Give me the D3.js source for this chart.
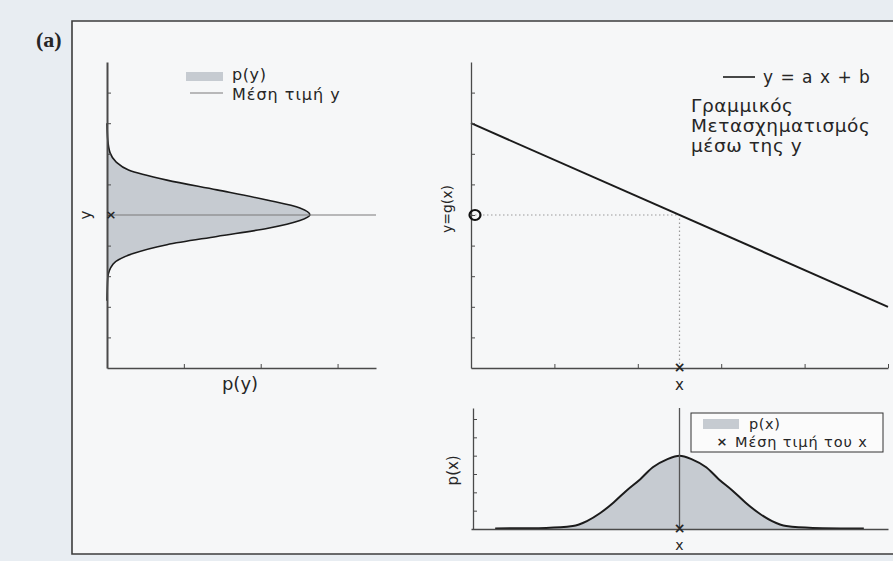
<!DOCTYPE html>
<html>
<head>
<meta charset="utf-8">
<script src="https://cdn.jsdelivr.net/npm/d3@7"></script>
<style>
  html, body { margin: 0; padding: 0; background: #e8edf2; }
  svg { display: block; }
  text { font-family: "DejaVu Sans", "Open Sans", sans-serif; fill: #262626; }
</style>
</head>
<body>
<svg id="fig" width="893" height="561"></svg>
<script>
// ---- data ----
// p(y): density of y, listed along the y axis (level, density)
const pyLevels  = [2.2, 2.95, 3.4, 3.74, 4.03, 4.3, 4.56, 4.82, 5.0, 5.23, 5.49, 5.82, 6.14, 6.47, 6.73, 7.03, 7.45, 8.0];
const pyDensity = [0, 0.01, 0.08, 0.34, 0.78, 1.43, 2.08, 2.51, 2.64, 2.51, 2.08, 1.43, 0.78, 0.28, 0.12, 0.04, 0.01, 0];
const yMean = 5;

// linear transform y = a x + b
const lineX = [0, 5];
const lineY = [8, 2];
const xMean = 2.5;

// p(x): density of x
const pxPos     = [0.29, 0.9, 1.22, 1.39, 1.55, 1.71, 1.87, 2.03, 2.18, 2.35, 2.5, 2.65, 2.82, 2.97, 3.13, 3.29, 3.45, 3.61, 3.78, 4.1, 4.71];
const pxDensity = [0.03, 0.06, 0.16, 0.43, 0.87, 1.45, 2.12, 2.72, 3.37, 3.8, 4.0, 3.8, 3.37, 2.72, 2.12, 1.45, 0.87, 0.43, 0.16, 0.06, 0.03];

// tick positions
const yTicks   = [1, 2, 3, 4, 5, 6, 7, 8, 9];
const pyTicks  = [1, 2, 3];
const xTicks   = [1, 2, 3, 4, 5];
const pxTicks  = [1, 2, 3, 4, 5, 6];

// ---- layout ----
const svg = d3.select("#fig");
const fillCol = "#c6cbd1";
const curveCol = "#1b1b1b";
const axisCol = "#4a4a4a";

// page + frame
svg.append("rect").attr("x", 72).attr("y", 21).attr("width", 821).attr("height", 533).attr("fill", "#f6f7f8");
svg.append("path")
  .attr("d", "M893,21 H72 V554 H893")
  .attr("fill", "none").attr("stroke", "#3c3c3c").attr("stroke-width", 1.6);
svg.append("text").attr("x", 36).attr("y", 47)
  .style("font-family", "'Liberation Serif', 'DejaVu Serif', serif")
  .style("font-weight", "bold").style("font-size", "22px").text("(a)");

// shared scales
const yScale = d3.scaleLinear().domain([0, 10]).range([368, 62]);
const pyScale = d3.scaleLinear().domain([0, 3.5]).range([107, 376]);
const xScale = d3.scaleLinear().domain([0, 5]).range([471, 888]);
const pxScale = d3.scaleLinear().domain([0, 6.6]).range([529, 408]);

function styleAxis(g, w) {
  g.selectAll("path.domain").attr("stroke", axisCol).attr("stroke-width", w);
  g.selectAll(".tick line").attr("stroke", axisCol).attr("stroke-width", 1);
  g.selectAll(".tick text").remove();
}

// ===== left panel: p(y) =====
const left = svg.append("g");
const pyData = pyLevels.map((v, i) => ({ y: v, p: pyDensity[i] }));
left.append("path").datum(pyData)
  .attr("d", d3.area().curve(d3.curveMonotoneY)
    .y(d => yScale(d.y)).x0(pyScale(0)).x1(d => pyScale(d.p)))
  .attr("fill", fillCol);
left.append("path").datum(pyData)
  .attr("d", d3.line().curve(d3.curveMonotoneY)
    .y(d => yScale(d.y)).x(d => pyScale(d.p)))
  .attr("fill", "none").attr("stroke", curveCol).attr("stroke-width", 1.6);
// mean line
left.append("line")
  .attr("x1", pyScale(0)).attr("x2", pyScale(3.5))
  .attr("y1", yScale(yMean)).attr("y2", yScale(yMean))
  .attr("stroke", "#7a7a7a").attr("stroke-width", 1.1);
left.append("g").attr("transform", `translate(${pyScale(0)},0)`)
  .call(d3.axisLeft(yScale).tickValues(yTicks).tickSizeInner(-4).tickSizeOuter(0))
  .call(g => styleAxis(g, 2));
left.append("g").attr("transform", `translate(0,${yScale(0)})`)
  .call(d3.axisBottom(pyScale).tickValues(pyTicks).tickSizeInner(-4).tickSizeOuter(0))
  .call(g => styleAxis(g, 1.6));
left.append("text").attr("x", pyScale(0) + 4).attr("y", yScale(yMean) + 4)
  .attr("text-anchor", "middle").style("font-size", "13px").style("font-weight", "bold").text("×");
left.append("text")
  .attr("transform", `translate(${pyScale(0) - 21},${yScale(yMean)}) rotate(-90)`)
  .attr("text-anchor", "middle").attr("dy", "0.35em").style("font-size", "15px").text("y");
left.append("text").attr("x", 240).attr("y", 390)
  .attr("text-anchor", "middle").style("font-size", "18px").text("p(y)");
// legend
left.append("rect").attr("x", 186).attr("y", 72).attr("width", 37).attr("height", 9).attr("fill", fillCol);
left.append("line").attr("x1", 190).attr("x2", 223).attr("y1", 93).attr("y2", 93)
  .attr("stroke", "#7a7a7a").attr("stroke-width", 1.1);
left.append("text").attr("x", 232).attr("y", 80).style("font-size", "16px")
  .style("letter-spacing", "0.6px").text("p(y)");
left.append("text").attr("x", 232).attr("y", 100).style("font-size", "16px")
  .style("letter-spacing", "1px").text("Μέση τιμή y");

// ===== top right: y = g(x) =====
const tr = svg.append("g");
tr.append("path")
  .attr("d", `M${xScale(0)},${yScale(yMean)} H${xScale(xMean)} V${yScale(0)}`)
  .attr("fill", "none").attr("stroke", "#9a9a9a").attr("stroke-width", 1.2)
  .attr("stroke-dasharray", "1.5,2.5");
tr.append("path").datum(lineX.map((v, i) => [v, lineY[i]]))
  .attr("d", d3.line().x(d => xScale(d[0])).y(d => yScale(d[1])))
  .attr("fill", "none").attr("stroke", curveCol).attr("stroke-width", 2);
tr.append("g").attr("transform", `translate(${xScale(0)},0)`)
  .call(d3.axisLeft(yScale).tickValues(yTicks).tickSizeInner(-4).tickSizeOuter(0))
  .call(g => styleAxis(g, 1.3));
tr.append("g").attr("transform", `translate(0,${yScale(0)})`)
  .call(d3.axisBottom(xScale).tickValues(xTicks).tickSizeInner(-4).tickSizeOuter(0))
  .call(g => styleAxis(g, 1.3));
tr.append("ellipse").attr("cx", xScale(0) + 4).attr("cy", yScale(yMean))
  .attr("rx", 5.5).attr("ry", 5).attr("fill", "none").attr("stroke", "#111").attr("stroke-width", 2.2);
tr.append("text").attr("x", xScale(xMean)).attr("y", yScale(0) + 4)
  .attr("text-anchor", "middle").style("font-size", "14px").style("font-weight", "bold").text("×");
tr.append("text").attr("x", xScale(xMean)).attr("y", yScale(0) + 22)
  .attr("text-anchor", "middle").style("font-size", "15px").text("x");
tr.append("text")
  .attr("transform", `translate(447,${yScale(yMean) - 6}) rotate(-90)`)
  .attr("text-anchor", "middle").attr("dy", "0.35em").style("font-size", "14px").text("y=g(x)");
// legend + note
tr.append("line").attr("x1", 723).attr("x2", 755).attr("y1", 77).attr("y2", 77)
  .attr("stroke", curveCol).attr("stroke-width", 1.6);
tr.append("text").attr("x", 763).attr("y", 83).style("font-size", "17px")
  .style("word-spacing", "2px").text("y = a x + b");
const note = ["Γραμμικός", "Μετασχηματισμός", "μέσω της y"];
tr.selectAll("text.note").data(note).join("text").attr("class", "note")
  .attr("x", 691).attr("y", (d, i) => 112 + i * 20)
  .style("font-size", "18.5px").style("letter-spacing", "0.6px").text(d => d);

// ===== bottom right: p(x) =====
const br = svg.append("g");
const pxData = pxPos.map((v, i) => ({ x: v, p: pxDensity[i] }));
br.append("path").datum(pxData)
  .attr("d", d3.area().curve(d3.curveMonotoneX)
    .x(d => xScale(d.x)).y0(pxScale(0)).y1(d => pxScale(d.p)))
  .attr("fill", fillCol);
br.append("path").datum(pxData)
  .attr("d", d3.line().curve(d3.curveMonotoneX)
    .x(d => xScale(d.x)).y(d => pxScale(d.p)))
  .attr("fill", "none").attr("stroke", curveCol).attr("stroke-width", 2);
br.append("line")
  .attr("x1", xScale(xMean)).attr("x2", xScale(xMean))
  .attr("y1", pxScale(0)).attr("y2", pxScale(6.6))
  .attr("stroke", "#555").attr("stroke-width", 1.3);
br.append("g").attr("transform", `translate(${xScale(0) + 2},0)`)
  .call(d3.axisLeft(pxScale).tickValues(pxTicks).tickSizeInner(-4).tickSizeOuter(0))
  .call(g => styleAxis(g, 1.3));
br.append("g").attr("transform", `translate(0,${pxScale(0)})`)
  .call(d3.axisBottom(xScale).tickValues([]).tickSizeOuter(0))
  .call(g => styleAxis(g, 1.3));
br.append("text").attr("x", xScale(xMean)).attr("y", pxScale(0) + 4)
  .attr("text-anchor", "middle").style("font-size", "14px").style("font-weight", "bold").text("×");
br.append("text").attr("x", xScale(xMean)).attr("y", pxScale(0) + 21)
  .attr("text-anchor", "middle").style("font-size", "14px").text("x");
br.append("text")
  .attr("transform", `translate(453,${pxScale(3.2)}) rotate(-90)`)
  .attr("text-anchor", "middle").attr("dy", "0.35em").style("font-size", "15px").text("p(x)");
// legend box
br.append("rect").attr("x", 691).attr("y", 413).attr("width", 192).attr("height", 39)
  .attr("fill", "#fbfbfb").attr("stroke", "#333").attr("stroke-width", 1);
br.append("rect").attr("x", 703).attr("y", 419).attr("width", 36).attr("height", 10).attr("fill", fillCol);
br.append("text").attr("x", 749).attr("y", 429).style("font-size", "14.5px")
  .style("letter-spacing", "0.6px").text("p(x)");
br.append("text").attr("x", 722).attr("y", 446).attr("text-anchor", "middle")
  .style("font-size", "13px").style("font-weight", "bold").text("×");
br.append("text").attr("x", 735).attr("y", 447).style("font-size", "14.5px")
  .style("letter-spacing", "0.9px").text("Μέση τιμή του x");
</script>
</body>
</html>
